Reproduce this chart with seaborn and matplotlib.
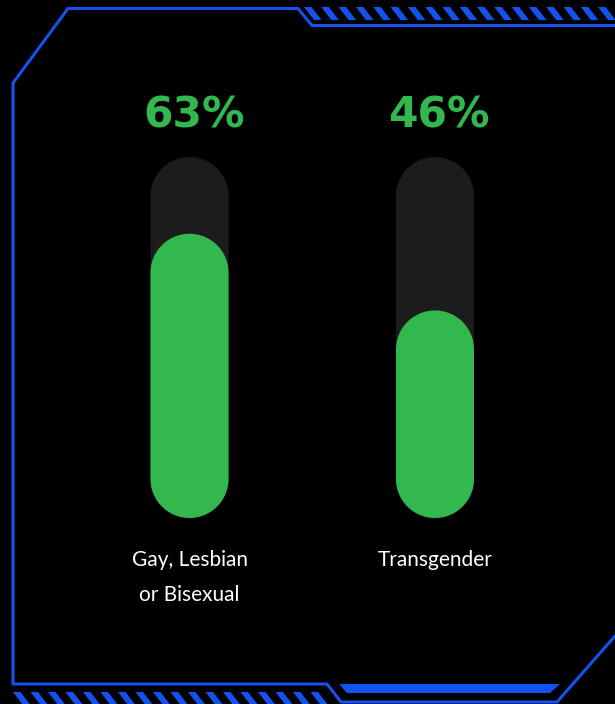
import matplotlib.pyplot as plt
import seaborn as sns
import pandas as pd
import numpy as np
from matplotlib.patches import Polygon

# data
groups = ["Gay, Lesbian\nor Bisexual", "Transgender"]
shares = [63, 46]
track_max = 80

BG = "#000000"
TRACK = "#1c1c1c"
GREEN = "#32b84f"
BLUE = "#1352ee"

sns.set_theme(style="white")
plt.rcParams["font.family"] = ["Lato", "DejaVu Sans"]

df = pd.DataFrame({"group": groups, "share": shares, "track": [track_max] * len(groups)})

fig = plt.figure(figsize=(6.15, 7.04), dpi=100, facecolor=BG)

# decorative frame, drawn in pixel space
deco = fig.add_axes([0, 0, 1, 1], zorder=0)
deco.set_xlim(0, 615)
deco.set_ylim(704, 0)
deco.axis("off")
outline = [(615, 25.5), (312, 25.5), (298, 8.5), (68, 8.5), (13, 83), (13, 684),
           (327, 684), (341, 702), (557, 702), (615, 636)]
deco.plot(*zip(*outline), color=BLUE, lw=2.2, solid_joinstyle="miter")
deco.add_patch(Polygon([(339, 684), (560, 684), (550, 693), (347, 693)], color=BLUE, lw=0))
for x0 in np.arange(304, 620, 17.3):
    deco.add_patch(Polygon([(x0, 7), (x0 + 7.5, 7), (x0 + 17.5, 20), (x0 + 10, 20)], color=BLUE, lw=0))
for x0 in np.arange(13, 322, 17.5):
    deco.add_patch(Polygon([(x0, 692), (x0 + 7.5, 692), (x0 + 17.5, 705), (x0 + 10, 705)], color=BLUE, lw=0))

# bars
ax = fig.add_axes([66.75 / 615, (704 - 518) / 704, 491 / 615, 361 / 704], zorder=1)
ax.set_facecolor("none")
sns.barplot(data=df, x="group", y="track", color=TRACK, width=0.318, saturation=1, ax=ax)
sns.barplot(data=df, x="group", y="share", color=GREEN, width=0.318, saturation=1, ax=ax)
ax.set_xlim(-0.5, 1.5)
ax.set_ylim(0, track_max)
ax.axis("off")

# swap the square bars for pill shapes (semicircle caps in screen space)
t0 = ax.transData.transform((0, 0))
px_x = ax.transData.transform((1, 0))[0] - t0[0]
px_y = ax.transData.transform((0, 1))[1] - t0[1]
theta = np.linspace(0, np.pi, 60)
for p in list(ax.patches):
    x, y, w, h = p.get_x(), p.get_y(), p.get_width(), p.get_height()
    fc = p.get_facecolor()
    p.remove()
    rx = w / 2
    ry = rx * px_x / px_y
    cx = x + rx
    top = np.column_stack([cx + rx * np.cos(theta), y + h - ry + ry * np.sin(theta)])
    bot = np.column_stack([cx - rx * np.cos(theta), y + ry - ry * np.sin(theta)])
    ax.add_patch(Polygon(np.vstack([top, bot]), closed=True, fc=fc, ec="none", clip_on=False))

for i, (g, v) in enumerate(zip(groups, shares)):
    ax.annotate(f"{v}%", (i, track_max), xytext=(3, 21), textcoords="offset points",
                ha="center", va="baseline", fontsize=30.5, fontweight="bold",
                color=GREEN, family="DejaVu Sans", annotation_clip=False)
    ax.annotate(g, (i, 0), xytext=(0, -23), textcoords="offset points",
                ha="center", va="top", fontsize=15, color="white",
                linespacing=1.95, annotation_clip=False)

fig.savefig("out.png", dpi=100, facecolor=BG)
